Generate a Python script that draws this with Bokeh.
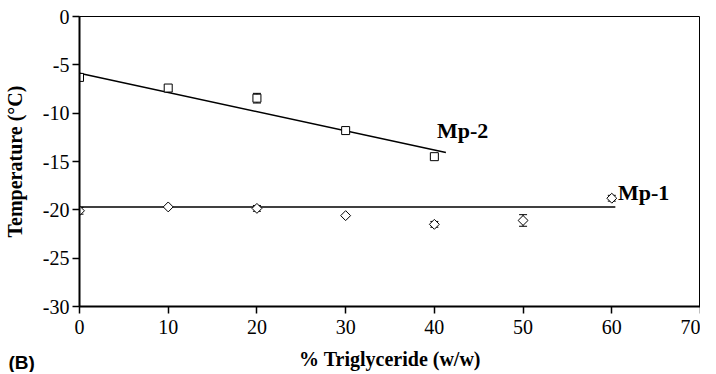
import numpy as np
from bokeh.plotting import figure
from bokeh.models import Range1d, FixedTicker, Whisker, TeeHead, ColumnDataSource, Label, Title
from bokeh.embed import file_html
from bokeh.resources import INLINE

# Mp-2 data (squares)
mp2_x = [0, 10, 20, 30, 40]
mp2_y = [-6.3, -7.4, -8.45, -11.8, -14.5]
mp2_err = [0.0, 0.0, 0.5, 0.0, 0.2]
mp2_fit_x = [0, 41.3]
mp2_fit_y = [-5.86, -14.08]

# Mp-1 data (diamonds)
mp1_x = [0, 10, 20, 30, 40, 50, 60]
mp1_y = [-20.1, -19.7, -19.85, -20.6, -21.5, -21.1, -18.8]
mp1_err = [0.35, 0.0, 0.3, 0.0, 0.3, 0.6, 0.3]
mp1_fit_x = [0, 60.4]
mp1_fit_y = [-19.7, -19.7]

x_ticks = [0, 10, 20, 30, 40, 50, 60, 70]
y_ticks = [-30, -25, -20, -15, -10, -5, 0]

SERIF = "Liberation Serif"
SANS = "Liberation Sans"

p = figure(width=700, height=372,
           min_border_left=71, min_border_right=0, min_border_top=16, min_border_bottom=60,
           x_range=Range1d(0, 70), y_range=Range1d(-30, 0),
           output_backend="svg", toolbar_location=None)

p.grid.visible = False
p.background_fill_color = "white"
p.border_fill_color = "white"
p.outline_line_color = "black"
p.outline_line_width = 1
p.outline_line_alpha = 1

for ax, ticks in ((p.xaxis[0], x_ticks), (p.yaxis[0], y_ticks)):
    ax.ticker = FixedTicker(ticks=ticks)
    ax.major_label_overrides = {t: str(t) for t in ticks}
    ax.minor_tick_line_color = None
    ax.major_tick_in = 0
    ax.major_tick_out = 7
    ax.axis_line_width = 2
    ax.major_tick_line_width = 1.5
    ax.axis_line_color = "black"
    ax.major_tick_line_color = "black"
    ax.major_label_text_font = SERIF
    ax.major_label_text_font_size = "20px"
    ax.major_label_text_color = "black"
    ax.axis_label_text_font = SERIF
    ax.axis_label_text_font_style = "bold"
    ax.axis_label_text_font_size = "20px"
    ax.axis_label_text_color = "black"

p.xaxis.axis_label = "% Triglyceride (w/w)"
p.yaxis.axis_label = "Temperature (°C)"
p.xaxis.major_label_standoff = 6
p.yaxis.major_label_standoff = 3
p.xaxis.axis_label_standoff = 11
p.yaxis.axis_label_standoff = 14

# regression lines
p.line(mp2_fit_x, mp2_fit_y, line_color="black", line_width=1.5)
p.line(mp1_fit_x, mp1_fit_y, line_color="black", line_width=1.5)

# error bars
def add_err(xs, ys, es):
    xx = [x for x, e in zip(xs, es) if e > 0]
    lo = [y - e for y, e in zip(ys, es) if e > 0]
    hi = [y + e for y, e in zip(ys, es) if e > 0]
    src = ColumnDataSource(dict(x=xx, lo=lo, hi=hi))
    w = Whisker(source=src, base="x", lower="lo", upper="hi", dimension="height",
                line_color="black", line_width=1,
                lower_head=TeeHead(size=8, line_color="black", line_width=1),
                upper_head=TeeHead(size=8, line_color="black", line_width=1))
    p.add_layout(w)

add_err(mp2_x, mp2_y, mp2_err)
add_err(mp1_x, mp1_y, mp1_err)

p.scatter(mp2_x, mp2_y, marker="square", size=8, fill_color="white",
          line_color="black", line_width=1)
p.scatter(mp1_x, mp1_y, marker="square", size=7, angle=np.pi / 4, fill_color="white",
          line_color="black", line_width=1)

p.add_layout(Label(x=40.3, y=-11.8, text="Mp-2", text_font=SERIF,
                   text_font_style="bold", text_font_size="22px", text_color="black",
                   text_baseline="alphabetic"))
p.add_layout(Label(x=60.7, y=-18.2, text="Mp-1", text_font=SERIF,
                   text_font_style="bold", text_font_size="22px", text_color="black",
                   text_baseline="alphabetic"))

# panel tag "(B)" in the bottom-left corner, on the same row as the x-axis title
p.add_layout(Title(text="(B)", align="left", vertical_align="top", offset=-71, standoff=-42,
                   text_font=SANS, text_font_style="bold", text_font_size="19px",
                   text_color="black"), "below")

open("out.html", "w").write(file_html(p, INLINE))
